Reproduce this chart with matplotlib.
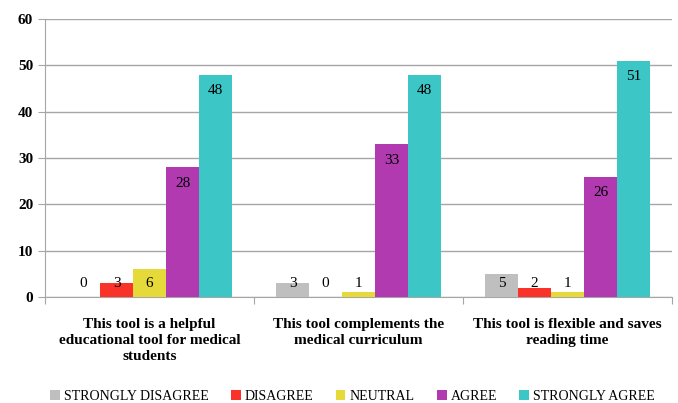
import numpy as np
from matplotlib import pyplot as plt

categories = ["This tool is a helpful\neducational tool for medical\nstudents",
              "This tool complements the\nmedical curriculum",
              "This tool is flexible and saves\nreading time"]
responses = ["STRONGLY DISAGREE", "DISAGREE", "NEUTRAL", "AGREE", "STRONGLY AGREE"]
strongly_disagree = [0, 3, 5]
disagree = [3, 0, 2]
neutral = [6, 1, 1]
agree = [28, 33, 26]
strongly_agree = [48, 48, 51]
series = [strongly_disagree, disagree, neutral, agree, strongly_agree]
colors = ["#bfbfbf", "#f9322a", "#e6d93a", "#b23ab0", "#3cc6c6"]

plt.rcParams['font.family'] = ['Liberation Serif', 'DejaVu Serif']

fig = plt.figure(figsize=(6.78, 4.03), dpi=100)
ax = fig.add_axes([0.0664, 0.263, 0.925, 0.69])

x = np.arange(len(categories))
w = 0.158
for i, (vals, c, name) in enumerate(zip(series, colors, responses)):
    pos = x + (i - 2) * w
    ax.bar(pos, vals, w, color=c, label=name, zorder=3)
    for p, v in zip(pos, vals):
        ax.text(p, max(v, 6.5) - 3.5, str(v), ha='center', va='center',
                fontsize=11, zorder=4)

ax.set_xlim(-0.5, 2.5)
ax.set_ylim(0, 60)
ax.set_yticks(range(0, 61, 10))
ax.yaxis.grid(True, color='#a6a6a6', linewidth=1, zorder=0)
ax.set_xticks([-0.5, 0.5, 1.5, 2.5])
ax.set_xticklabels([])
ax.set_xticks(x, minor=True)
ax.set_xticklabels(categories, minor=True, fontsize=11, fontweight='bold',
                   linespacing=1.3)
ax.tick_params(axis='x', which='minor', length=0, pad=15)
ax.tick_params(axis='x', which='major', length=5, color='#a6a6a6')
ax.tick_params(axis='y', length=5, color='#a6a6a6', labelsize=11)
for t in ax.get_yticklabels():
    t.set_fontweight('bold')
for s in ['top', 'right']:
    ax.spines[s].set_visible(False)
for s in ['left', 'bottom']:
    ax.spines[s].set_color('#a6a6a6')

fig.legend(loc='lower center', bbox_to_anchor=(0.52, -0.03), ncol=5,
           frameon=False, fontsize=10, handlelength=0.7, handleheight=0.7,
           handletextpad=0.3, columnspacing=1.6)

fig.savefig('out.png', dpi=100)
